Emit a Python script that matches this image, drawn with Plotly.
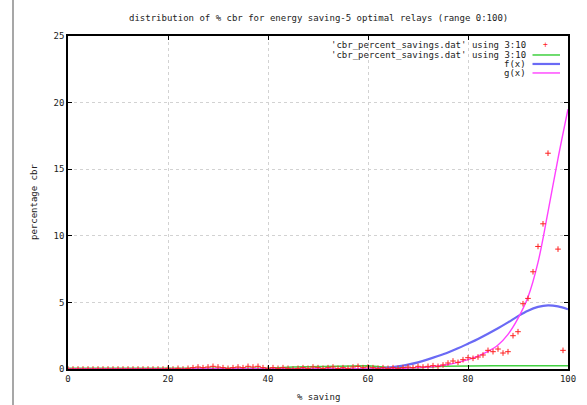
import plotly.graph_objects as go

# ---------------- data ----------------
title_text = "distribution of % cbr for energy saving-5 optimal relays (range 0:100)"
x_label = "% saving"
y_label = "percentage cbr"
legend_names = ["'cbr_percent_savings.dat' using 3:10",
                "'cbr_percent_savings.dat' using 3:10",
                "f(x)", "g(x)"]

pts_x = list(range(0, 101))
pts_y = [0.0, 0.0, 0.0, 0.0, 0.0, 0.0, 0.0, 0.0, 0.0, 0.0,
         0.0, 0.0, 0.0, 0.0, 0.0, 0.0, 0.0, 0.0, 0.0, 0.0,
         0.05, 0.0, 0.05, 0.0, 0.05, 0.1, 0.15, 0.1, 0.15, 0.2,
         0.15, 0.1, 0.05, 0.1, 0.15, 0.1, 0.2, 0.15, 0.2, 0.1,
         0.05, 0.1, 0.05, 0.1, 0.05, 0.0, 0.05, 0.1, 0.05, 0.15,
         0.1, 0.05, 0.1, 0.15, 0.05, 0.1, 0.05, 0.15, 0.2, 0.1,
         0.15, 0.1, 0.05, 0.1, 0.05, 0.1, 0.05, 0.1, 0.15, 0.1,
         0.2, 0.15, 0.2, 0.25, 0.2, 0.3, 0.45, 0.6, 0.5, 0.7,
         0.85, 0.8, 0.9, 1.05, 1.4, 1.3, 1.5, 1.2, 1.3, 2.5,
         2.8, 4.9, 5.3, 7.3, 9.2, 10.9, 16.2, None, 9.0, 1.4,
         None]

green_x = list(range(0, 101, 5))
green_y = [0.05, 0.05, 0.05, 0.05, 0.05, 0.05, 0.05, 0.05, 0.05, 0.15,
           0.2, 0.2, 0.25, 0.1, 0.1, 0.2, 0.25, 0.25, 0.25, 0.25, 0.25]

f_x = [0, 50, 60, 62, 64, 66, 68, 70, 72, 74, 76, 78, 80, 82, 84, 86, 88, 90, 92, 94, 96, 98, 100]
f_y = [0.0, 0.0, 0.0, 0.04, 0.1, 0.2, 0.33, 0.5, 0.72, 0.97, 1.24, 1.55, 1.9, 2.26, 2.65, 3.06, 3.5, 3.97, 4.38, 4.66, 4.78, 4.7, 4.48]

g_x = [0, 50, 60, 65, 70, 72, 74, 76, 78, 80, 82, 84, 86, 88, 90, 92, 94, 96, 98, 100]
g_y = [0.0, 0.0, 0.0, 0.02, 0.1, 0.15, 0.23, 0.34, 0.5, 0.7, 0.97, 1.32, 1.8, 2.6, 3.8, 5.4, 8.0, 11.8, 15.8, 19.5]

x_ticks = [0, 20, 40, 60, 80, 100]
y_ticks = [0, 5, 10, 15, 20, 25]

# ---------------- styles ----------------
FONT = "DejaVu Sans Mono"
TXT = "#222222"
c_red = "#ff2020"
c_green = "#40d040"
c_blue = "#6a6af5"
c_mag = "#ff40ff"

fig = go.Figure()
fig.add_trace(go.Scatter(x=green_x, y=green_y, mode="lines",
                         line=dict(color=c_green, width=1.5), showlegend=False))
fig.add_trace(go.Scatter(x=f_x, y=f_y, mode="lines", line_shape="spline",
                         line=dict(color=c_blue, width=2.2), showlegend=False))
fig.add_trace(go.Scatter(x=g_x, y=g_y, mode="lines", line_shape="spline",
                         line=dict(color=c_mag, width=1.4), showlegend=False))
fig.add_trace(go.Scatter(x=pts_x, y=pts_y, mode="markers",
                         marker=dict(symbol="cross-thin-open", size=4, color=c_red,
                                     line=dict(color=c_red, width=1)),
                         showlegend=False))

axis_common = dict(showline=True, mirror="allticks", linecolor="#000000", linewidth=1.5,
                   ticks="inside", ticklen=4, tickcolor="#000000",
                   showgrid=True, gridcolor="#d2d2d2", griddash="dot", gridwidth=1,
                   zeroline=False, tickfont=dict(family=FONT, size=9, color=TXT))

fig.update_xaxes(range=[0, 100], tickvals=x_ticks, **axis_common)
fig.update_yaxes(range=[0, 25], tickvals=y_ticks, **axis_common)

annotations = [
    dict(text=title_text, x=0.5, y=1.054, xref="paper", yref="paper",
         showarrow=False, xanchor="center", yanchor="middle",
         font=dict(family=FONT, size=9, color=TXT)),
    dict(text=x_label, x=0.5, y=-0.084, xref="paper", yref="paper",
         showarrow=False, xanchor="center", yanchor="middle",
         font=dict(family=FONT, size=9, color=TXT)),
    dict(text=y_label, x=-0.069, y=0.5, xref="paper", yref="paper",
         showarrow=False, xanchor="center", yanchor="middle", textangle=-90,
         font=dict(family=FONT, size=9, color=TXT)),
]
row_y = [0.973, 0.943, 0.916, 0.889]
for name, yy in zip(legend_names, row_y):
    annotations.append(dict(text=name, x=0.919, y=yy, xref="paper", yref="paper",
                            showarrow=False, xanchor="right", yanchor="middle",
                            font=dict(family=FONT, size=9, color=TXT)))
annotations.append(dict(text="+", x=0.955, y=row_y[0], xref="paper", yref="paper",
                        showarrow=False, xanchor="center", yanchor="middle",
                        font=dict(family=FONT, size=8, color=c_red)))

shapes = []
for col, yy, w in [(c_green, row_y[1], 1.5), (c_blue, row_y[2], 2.2), (c_mag, row_y[3], 1.4)]:
    shapes.append(dict(type="line", xref="paper", yref="paper",
                       x0=0.929, x1=0.984, y0=yy, y1=yy, line=dict(color=col, width=w)))
# left page border line
shapes.append(dict(type="line", xref="paper", yref="paper",
                   x0=-0.110, x1=-0.110, y0=-0.12, y1=1.12,
                   line=dict(color="#8a8a8a", width=1.5)))

fig.update_layout(width=587, height=405, margin=dict(l=68, r=11, t=36, b=36),
                  paper_bgcolor="white", plot_bgcolor="white",
                  annotations=annotations, shapes=shapes, showlegend=False)

fig.write_html("out.html", config={"responsive": False, "displayModeBar": False},
               post_script="document.body.style.margin='0px';document.body.style.overflow='hidden';")
